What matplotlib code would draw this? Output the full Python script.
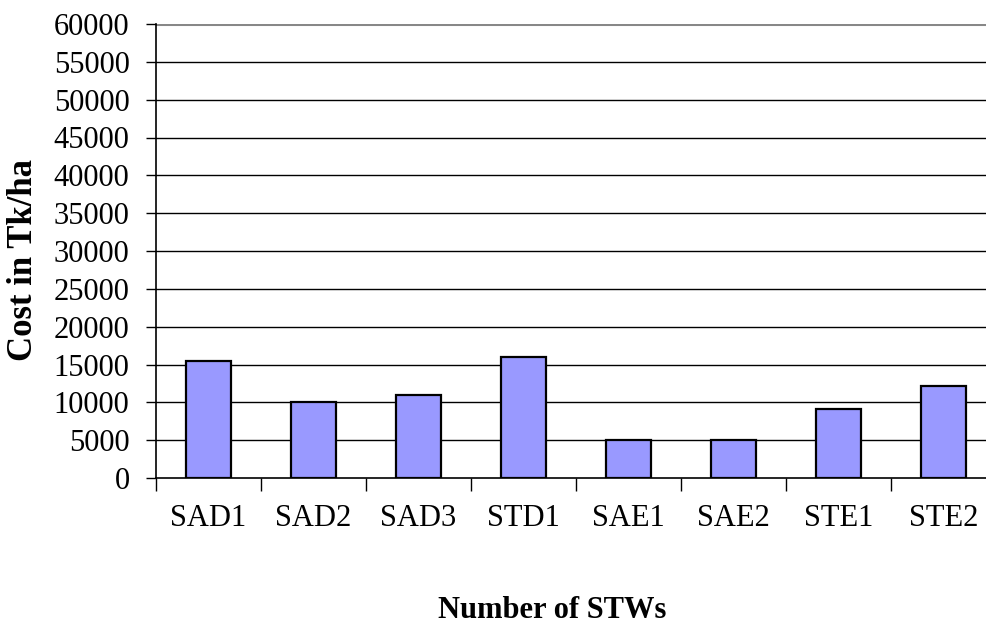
import matplotlib
matplotlib.use("Agg")
import matplotlib.pyplot as plt
import numpy as np

# Cost per hectare for each shallow tube well
categories = ["SAD1", "SAD2", "SAD3", "STD1", "SAE1", "SAE2", "STE1", "STE2"]
costs = [15500, 10000, 11000, 16000, 5000, 5000, 9100, 12200]
y_ticks = list(range(0, 60001, 5000))

plt.rcParams["font.family"] = ["Liberation Serif", "DejaVu Serif"]

fig = plt.figure(figsize=(9.86, 6.25), dpi=100)
# the plot area runs slightly past the right edge of the canvas
ax = fig.add_axes([156 / 986, 1 - 478 / 625, 840 / 986, (478 - 24) / 625])

x = np.arange(len(categories))
ax.set_axisbelow(True)
for v in y_ticks[1:-1]:
    ax.axhline(v, color="black", lw=1.0, zorder=0)
ax.axhline(y_ticks[-1], color="#888888", lw=2.2, zorder=0)

ax.bar(x, costs, width=0.42, color="#9999FF", edgecolor="black", linewidth=1.6, zorder=2)

ax.set_xlim(-0.5, len(categories) - 0.5)
ax.set_ylim(0, 60000)
ax.set_yticks(y_ticks)
ax.set_yticklabels([str(v) for v in y_ticks], fontsize=22)
ax.tick_params(axis="y", length=7, width=1.0, pad=12, color="black")

ax.set_xticks(x)
ax.set_xticklabels(categories, fontsize=22)
ax.tick_params(axis="x", which="major", length=0, pad=19)
ax.set_xticks(np.arange(len(categories) + 1) - 0.5, minor=True)
ax.tick_params(axis="x", which="minor", length=9, width=1.0, color="black")

for side in ["top", "right"]:
    ax.spines[side].set_visible(False)
ax.spines["left"].set_linewidth(1.2)
ax.spines["bottom"].set_linewidth(1.2)

fig.text(24 / 986, 1 - 260 / 625, "Cost in Tk/ha", rotation=90, fontsize=25,
         fontweight="bold", ha="center", va="center")
fig.text(552 / 986, 1 - 611 / 625, "Number of STWs", fontsize=22,
         fontweight="bold", ha="center", va="center")

fig.savefig("out.png", dpi=100)
